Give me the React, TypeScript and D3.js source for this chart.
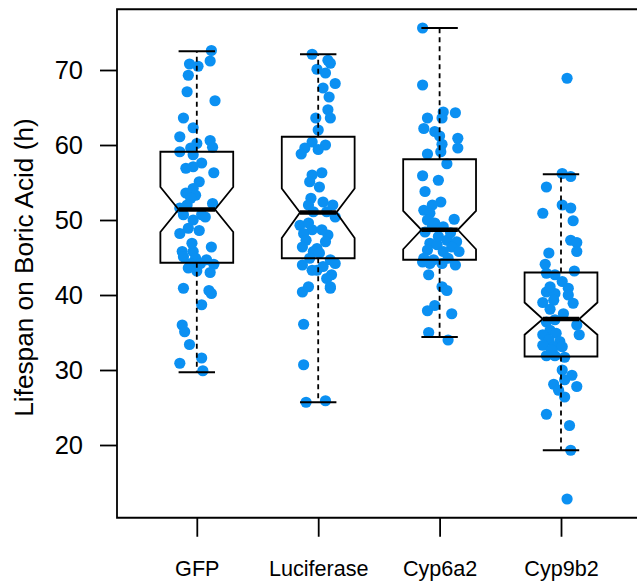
import { useEffect, useRef } from "react";
import * as d3 from "d3";

const categories = ["GFP", "Luciferase", "Cyp6a2", "Cyp9b2"];
const yTicks = [20, 30, 40, 50, 60, 70];

// each point: [jitter in category units, lifespan in hours]
const gfpPoints: [number, number][] = [
  [0.12, 72.6], [0.11, 71.2], [-0.06, 70.8], [0.01, 70.5], [-0.07, 69.3],
  [-0.08, 67.1], [0.15, 65.9], [-0.11, 63.6], [-0.03, 62.3], [-0.14, 61.1],
  [0.11, 60.6], [0.0, 60.2], [0.13, 59.7], [-0.14, 59.1], [-0.05, 59.6],
  [-0.03, 58.7], [0.04, 57.6], [-0.09, 56.9], [-0.03, 57.1], [0.14, 56.3],
  [0.02, 55.1], [-0.03, 54.2], [-0.09, 53.6], [-0.01, 53.3], [-0.05, 52.9],
  [0.13, 52.2], [-0.14, 51.6], [-0.11, 50.7], [0.04, 50.7], [-0.03, 50.0],
  [-0.07, 48.9], [-0.14, 48.2], [0.02, 48.6], [0.12, 46.4], [-0.12, 45.8],
  [-0.03, 45.8], [-0.11, 45.1], [-0.01, 44.9], [-0.05, 44.2], [0.03, 44.2],
  [0.14, 44.1], [-0.07, 43.6], [0.0, 43.2], [0.11, 43.0], [-0.11, 40.9],
  [0.1, 40.6], [0.12, 40.2], [0.04, 38.7], [-0.12, 36.0], [-0.1, 35.1],
  [-0.06, 33.4], [-0.14, 30.9], [0.04, 31.6], [0.05, 29.9], [-0.08, 52.0],
  [0.07, 50.4], [-0.04, 46.9], [0.08, 44.7],
];

const luciferasePoints: [number, number][] = [
  [-0.05, 72.1], [0.08, 71.3], [0.1, 70.9], [-0.01, 70.1], [0.06, 69.6],
  [0.14, 68.2], [0.04, 67.6], [0.09, 66.4], [0.08, 64.7], [0.1, 63.6],
  [-0.02, 63.6], [0.0, 62.0], [-0.05, 60.4], [0.06, 60.0], [0.0, 59.4],
  [-0.11, 59.6], [-0.14, 58.8], [0.03, 56.3], [-0.05, 56.0], [-0.07, 55.1],
  [0.01, 54.4], [-0.06, 52.9], [0.04, 52.4], [-0.08, 52.0], [0.12, 52.0],
  [0.07, 51.1], [0.14, 50.4], [-0.15, 49.3], [-0.05, 48.7], [-0.12, 48.2],
  [0.08, 48.0], [-0.1, 47.3], [0.06, 47.1], [-0.13, 46.4], [-0.01, 46.2],
  [-0.04, 45.8], [0.01, 45.6], [0.1, 44.7], [-0.07, 44.9], [0.14, 44.2],
  [-0.13, 44.0], [0.04, 43.8], [-0.01, 43.3], [0.11, 42.7], [0.07, 42.2],
  [0.1, 40.9], [-0.08, 41.1], [-0.13, 40.4], [-0.12, 36.1], [-0.12, 30.7],
  [-0.1, 25.7], [0.06, 25.9], [-0.04, 51.1], [-0.08, 49.6], [0.03, 48.7],
  [-0.05, 43.3], [0.1, 41.1],
];

const cyp6a2Points: [number, number][] = [
  [-0.14, 75.6], [-0.14, 68.0], [0.03, 64.4], [0.13, 64.3], [-0.1, 63.6],
  [0.02, 63.6], [-0.13, 62.2], [-0.04, 61.8], [0.0, 61.2], [0.15, 60.9],
  [0.02, 60.1], [0.15, 59.6], [-0.1, 58.8], [0.01, 59.1], [0.06, 57.5],
  [-0.14, 55.9], [-0.01, 55.3], [-0.12, 53.8], [0.01, 52.4], [-0.06, 52.0],
  [-0.13, 51.3], [-0.08, 50.9], [0.12, 50.1], [-0.1, 50.0], [-0.04, 49.6],
  [0.03, 49.1], [-0.12, 48.4], [0.06, 47.3], [0.14, 47.1], [-0.08, 46.9],
  [-0.02, 46.7], [0.1, 46.4], [-0.1, 46.0], [0.03, 45.8], [0.16, 45.8],
  [-0.13, 44.9], [-0.05, 44.7], [0.07, 44.9], [-0.14, 44.4], [-0.08, 44.2],
  [0.13, 44.0], [-0.09, 42.7], [0.02, 41.1], [0.06, 40.6], [-0.04, 38.6],
  [-0.1, 37.9], [0.1, 37.5], [-0.09, 35.0], [0.07, 34.0], [-0.01, 47.8],
  [-0.06, 49.1], [0.02, 44.2], [0.09, 48.3],
];

const cyp9b2Points: [number, number][] = [
  [0.05, 68.9], [0.01, 56.2], [0.08, 55.8], [-0.12, 54.4], [0.01, 52.0],
  [0.08, 51.6], [-0.15, 50.9], [0.1, 49.9], [0.08, 47.3], [0.13, 47.0],
  [0.13, 45.8], [-0.1, 45.6], [-0.13, 44.1], [0.11, 43.2], [-0.12, 42.9],
  [-0.05, 42.7], [0.01, 41.8], [0.06, 40.9], [-0.12, 40.4], [-0.05, 40.2],
  [0.06, 40.0], [-0.15, 39.0], [-0.06, 39.3], [-0.09, 38.1], [0.02, 37.5],
  [-0.12, 36.4], [0.13, 36.0], [-0.09, 35.3], [0.15, 34.7], [-0.15, 34.7],
  [-0.04, 34.9], [-0.1, 34.0], [-0.01, 33.8], [-0.15, 33.3], [-0.06, 33.1],
  [0.01, 33.1], [-0.12, 31.9], [-0.05, 31.9], [0.03, 31.7], [0.01, 30.0],
  [0.09, 29.3], [-0.06, 28.1], [0.03, 28.7], [0.13, 27.8], [-0.02, 27.3],
  [0.03, 26.4], [-0.12, 24.1], [0.07, 22.6], [0.08, 19.3], [0.05, 12.8],
  [-0.05, 36.7], [-0.09, 41.1], [0.1, 38.9], [-0.08, 32.7],
];

const groupPoints = [gfpPoints, luciferasePoints, cyp6a2Points, cyp9b2Points];

// box statistics
const whiskerLow = [29.7, 25.7, 34.4, 19.3];
const q1 = [44.3, 44.9, 44.7, 31.8];
const median = [51.4, 51.0, 48.7, 36.8];
const q3 = [59.1, 61.1, 58.1, 43.0];
const whiskerHigh = [72.5, 72.1, 75.6, 56.1];
const notchLow = [48.4, 47.6, 46.1, 34.7];
const notchHigh = [54.4, 54.2, 51.2, 39.0];

const FONT = "'Liberation Sans', Arial, Helvetica, sans-serif";

export default function App() {
  const svgRef = useRef<SVGSVGElement>(null);

  useEffect(() => {
    if (!svgRef.current) return;
    const svg = d3.select(svgRef.current);
    svg.selectAll("*").remove();

    const x = d3.scaleLinear().domain([1, 4]).range([196.8, 561]);
    const y = d3.scaleLinear().domain([10, 80]).range([520, -5]);
    const frameLeft = 117;
    const frameTop = y(78.1);
    const frameBottom = y(10.3);
    const boxHalf = 0.3;

    // jittered points
    groupPoints.forEach((pts, i) => {
      svg
        .append("g")
        .selectAll("circle")
        .data(pts)
        .join("circle")
        .attr("cx", (d) => x(i + 1 + d[0]))
        .attr("cy", (d) => y(d[1]))
        .attr("r", 5.6)
        .attr("fill", "#0b90f2");
    });

    // notched boxes
    categories.forEach((_, i) => {
      const c = i + 1;
      const g = svg.append("g").attr("fill", "none").attr("stroke", "#000");

      const poly: [number, number][] = [
        [c - boxHalf, q3[i]],
        [c + boxHalf, q3[i]],
        [c + boxHalf, notchHigh[i]],
        [c + boxHalf / 2, median[i]],
        [c + boxHalf, notchLow[i]],
        [c + boxHalf, q1[i]],
        [c - boxHalf, q1[i]],
        [c - boxHalf, notchLow[i]],
        [c - boxHalf / 2, median[i]],
        [c - boxHalf, notchHigh[i]],
      ];
      const line = d3
        .line<[number, number]>()
        .x((d) => x(d[0]))
        .y((d) => y(d[1]));
      g.append("path")
        .attr("d", line(poly) + "Z")
        .attr("stroke-width", 1.8);

      // whiskers
      [
        [q3[i], whiskerHigh[i]],
        [q1[i], whiskerLow[i]],
      ].forEach(([a, b]) => {
        g.append("line")
          .attr("x1", x(c))
          .attr("x2", x(c))
          .attr("y1", y(a))
          .attr("y2", y(b))
          .attr("stroke-width", 1.8)
          .attr("stroke-dasharray", "5,4");
        g.append("line")
          .attr("x1", x(c - boxHalf / 2))
          .attr("x2", x(c + boxHalf / 2))
          .attr("y1", y(b))
          .attr("y2", y(b))
          .attr("stroke-width", 1.8);
      });

      g.append("line")
        .attr("x1", x(c - boxHalf / 2))
        .attr("x2", x(c + boxHalf / 2))
        .attr("y1", y(median[i]))
        .attr("y2", y(median[i]))
        .attr("stroke-width", 4.5);
    });

    // frame (right side runs off the picture)
    svg
      .append("path")
      .attr("d", `M700,${frameTop}H${frameLeft}V${frameBottom}H700`)
      .attr("fill", "none")
      .attr("stroke", "#000")
      .attr("stroke-width", 1.8);

    // y axis
    const yAxis = svg
      .append("g")
      .attr("transform", `translate(${frameLeft},0)`)
      .call(d3.axisLeft(y).tickValues(yTicks).tickSize(17).tickPadding(17));
    yAxis.select(".domain").remove();
    yAxis.selectAll("line").attr("stroke-width", 1.8);
    yAxis
      .selectAll("text")
      .attr("font-family", FONT)
      .attr("font-size", 25.5)
      .attr("fill", "#000");

    // x axis
    const xAxis = svg
      .append("g")
      .attr("transform", `translate(0,${frameBottom})`)
      .call(
        d3
          .axisBottom(x)
          .tickValues([1, 2, 3, 4])
          .tickSize(19)
          .tickPadding(24)
          .tickFormat((d) => categories[+d - 1])
      );
    xAxis.select(".domain").remove();
    xAxis.selectAll("line").attr("stroke-width", 1.8);
    xAxis
      .selectAll("text")
      .attr("font-family", FONT)
      .attr("font-size", 21.6)
      .attr("fill", "#000");

    svg
      .append("text")
      .attr("transform", `translate(33,${(frameTop + frameBottom) / 2 + 4}) rotate(-90)`)
      .attr("text-anchor", "middle")
      .attr("font-family", FONT)
      .attr("font-size", 26.2)
      .text("Lifespan on Boric Acid (h)");
  }, []);

  return (
    <svg
      ref={svgRef}
      width={637}
      height={581}
      style={{ position: "absolute", left: 0, top: 0, background: "#fff" }}
    />
  );
}
